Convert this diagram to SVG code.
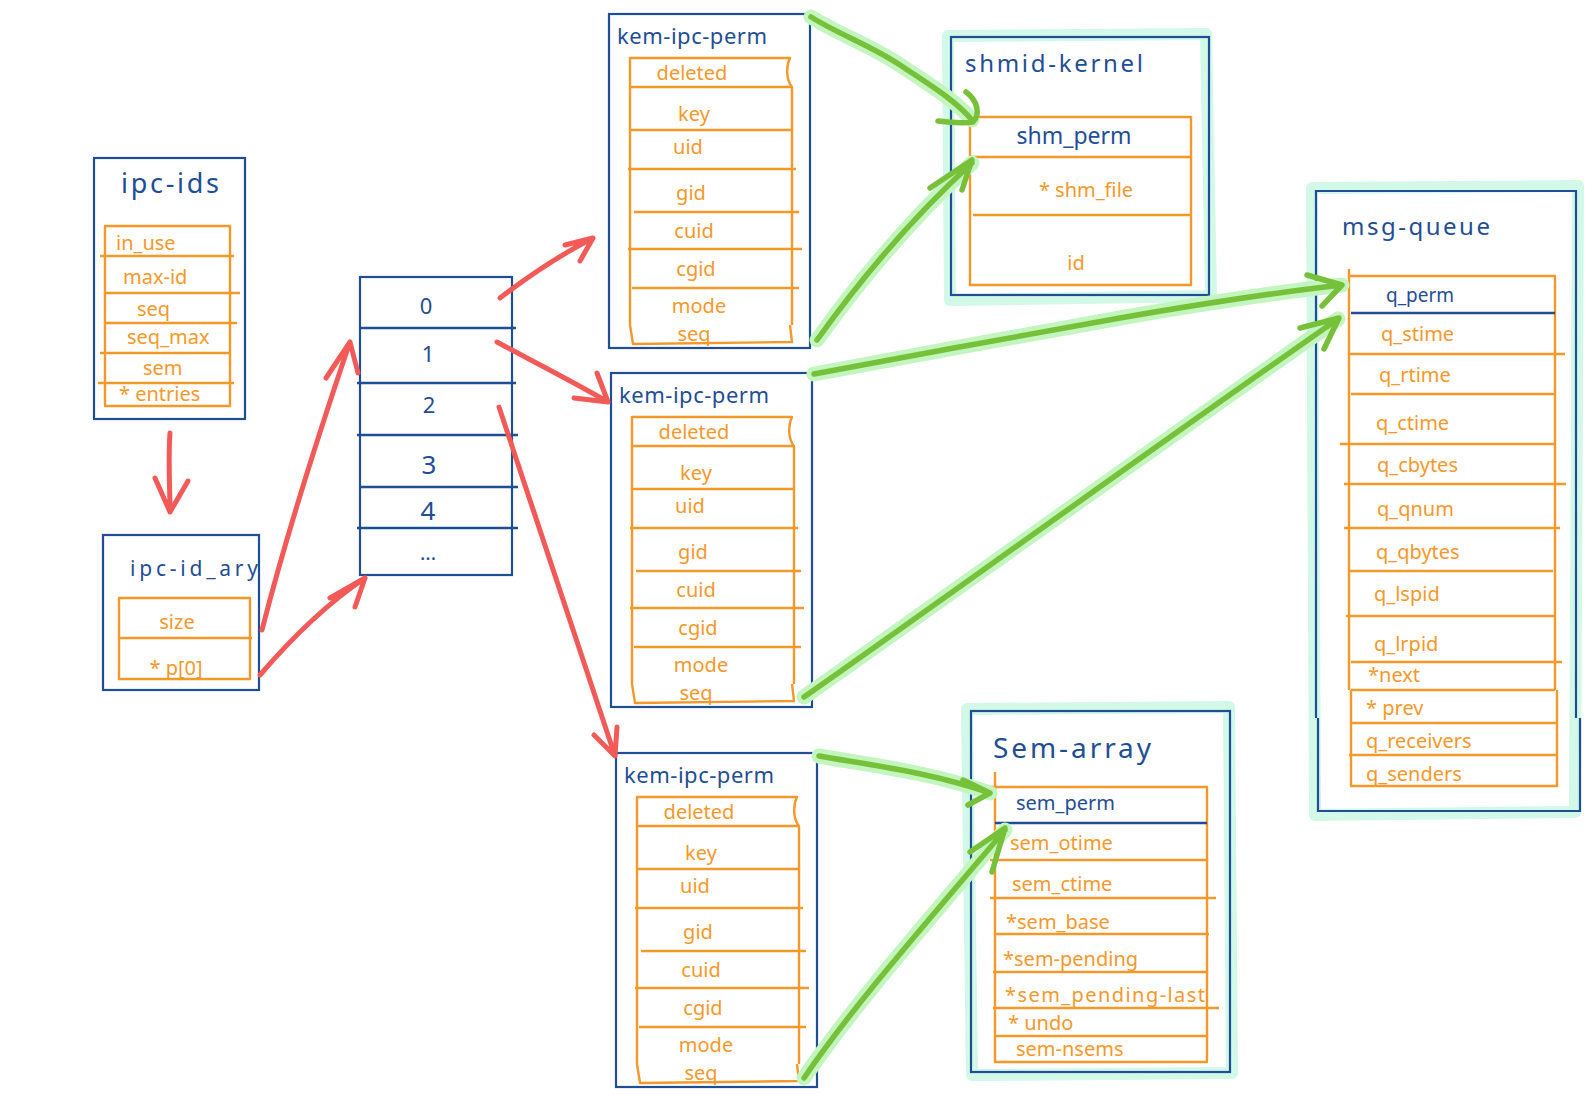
<svg xmlns="http://www.w3.org/2000/svg" width="1596" height="1119" viewBox="0 0 1596 1119">
<style>
.bb{fill:none;stroke:#1f4e94;stroke-width:2.2}
.ob{fill:none;stroke:#f5982a;stroke-width:2.4;stroke-linejoin:round}
.bl{fill:none;stroke:#1f4e94;stroke-width:2.4}
.halo{fill:none;stroke:#d2f8e8;stroke-width:12;stroke-linejoin:round}
.tb{fill:#1f4e94;font-family:"Noto Sans","Liberation Sans",sans-serif}
.to{fill:#f5982a;font-family:"Noto Sans","Liberation Sans",sans-serif;font-size:20px}
.red{fill:none;stroke:#f25a58;stroke-width:5;stroke-linecap:round;stroke-linejoin:round}
.gh{fill:none;stroke:#c3f5bf;stroke-width:15;stroke-linecap:round;stroke-linejoin:round}
.gr{fill:none;stroke:#76c03a;stroke-width:5.5;stroke-linecap:round;stroke-linejoin:round}
</style>
<rect width="1596" height="1119" fill="#ffffff"/>

<g id="ipc-ids">
<rect class="bb" x="94" y="158" width="151" height="261"/>
<text class="tb" x="170" y="193" font-size="27" text-anchor="middle" textLength="98">ipc-ids</text>
<rect class="ob" x="105" y="226" width="125" height="180"/>
<path class="ob" d="M100,256H234M105,293H240M105,323H237M100,353H230M98,383H234"/>
<text class="to" x="116" y="250" font-size="16">in_use</text>
<text class="to" x="123" y="284" font-size="17">max-id</text>
<text class="to" x="137" y="316" font-size="17">seq</text>
<text class="to" x="127" y="344" font-size="16">seq_max</text>
<text class="to" x="143" y="375" font-size="17">sem</text>
<text class="to" x="119" y="401" font-size="17">* entries</text>
</g>

<g id="ipc-id_ary">
<rect class="bb" x="103" y="535" width="156" height="155"/>
<text class="tb" x="130" y="576" font-size="21" textLength="128">ipc-id_ary</text>
<rect class="ob" x="119" y="598" width="131" height="81"/>
<path class="ob" d="M119,638H252"/>
<text class="to" x="177" y="629" text-anchor="middle">size</text>
<text class="to" x="176" y="675" text-anchor="middle">* p[0]</text>
</g>

<g id="array">
<rect class="bb" x="360" y="277" width="152" height="298"/>
<path class="bl" d="M360,328H516M357,383H516M357,435H518M360,487H518M357,528H518"/>
<text class="tb" x="426" y="314" font-size="22" text-anchor="middle">0</text>
<text class="tb" x="428" y="362" font-size="22" text-anchor="middle">1</text>
<text class="tb" x="429" y="413" font-size="22" text-anchor="middle">2</text>
<text class="tb" x="429" y="474" font-size="26" text-anchor="middle">3</text>
<text class="tb" x="428" y="520" font-size="26" text-anchor="middle">4</text>
<text class="tb" x="428" y="560" font-size="20" text-anchor="middle">...</text>
</g>

<g id="kem-ipc-perm-1" transform="translate(609,14)">
<rect class="bb" x="0" y="0" width="201" height="334"/>
<text class="tb" x="8" y="30" font-size="22" textLength="150">kem-ipc-perm</text>
<path class="ob" d="M21,311V44H181C177,52 177,66 183,73V311M21,73H183M21,116H183M19,155H187M25,198H190M19,235H193M23,274H190M21,311L24,330L183,328L181,311"/>
<text class="to" x="83" y="66" text-anchor="middle">deleted</text>
<text class="to" x="85" y="107" text-anchor="middle">key</text>
<text class="to" x="79" y="140" text-anchor="middle">uid</text>
<text class="to" x="82" y="186" text-anchor="middle">gid</text>
<text class="to" x="85" y="224" text-anchor="middle">cuid</text>
<text class="to" x="87" y="262" text-anchor="middle">cgid</text>
<text class="to" x="90" y="299" text-anchor="middle">mode</text>
<text class="to" x="85" y="327" text-anchor="middle">seq</text>
</g>

<g id="kem-ipc-perm-2" transform="translate(611,373)">
<rect class="bb" x="0" y="0" width="201" height="334"/>
<text class="tb" x="8" y="30" font-size="22" textLength="150">kem-ipc-perm</text>
<path class="ob" d="M21,311V44H181C177,52 177,66 183,73V311M21,73H183M21,116H183M19,155H187M25,198H190M19,235H193M23,274H190M21,311L24,330L183,328L181,311"/>
<text class="to" x="83" y="66" text-anchor="middle">deleted</text>
<text class="to" x="85" y="107" text-anchor="middle">key</text>
<text class="to" x="79" y="140" text-anchor="middle">uid</text>
<text class="to" x="82" y="186" text-anchor="middle">gid</text>
<text class="to" x="85" y="224" text-anchor="middle">cuid</text>
<text class="to" x="87" y="262" text-anchor="middle">cgid</text>
<text class="to" x="90" y="299" text-anchor="middle">mode</text>
<text class="to" x="85" y="327" text-anchor="middle">seq</text>
</g>

<g id="kem-ipc-perm-3" transform="translate(616,753)">
<rect class="bb" x="0" y="0" width="201" height="334"/>
<text class="tb" x="8" y="30" font-size="22" textLength="150">kem-ipc-perm</text>
<path class="ob" d="M21,311V44H181C177,52 177,66 183,73V311M21,73H183M21,116H183M19,155H187M25,198H190M19,235H193M23,274H190M21,311L24,330L183,328L181,311"/>
<text class="to" x="83" y="66" text-anchor="middle">deleted</text>
<text class="to" x="85" y="107" text-anchor="middle">key</text>
<text class="to" x="79" y="140" text-anchor="middle">uid</text>
<text class="to" x="82" y="186" text-anchor="middle">gid</text>
<text class="to" x="85" y="224" text-anchor="middle">cuid</text>
<text class="to" x="87" y="262" text-anchor="middle">cgid</text>
<text class="to" x="90" y="299" text-anchor="middle">mode</text>
<text class="to" x="85" y="327" text-anchor="middle">seq</text>
</g>

<g id="shmid_kernel">
<path class="halo" d="M948,36L1206,34L1211,296L950,300Z"/>
<rect class="bb" x="951" y="37" width="258" height="258"/>
<text class="tb" x="965" y="72" font-size="24" textLength="178">shmid-kernel</text>
<rect class="ob" x="970" y="117" width="221" height="168"/>
<path class="ob" d="M970,157H1191M973,215H1191"/>
<text class="tb" x="1074" y="144" font-size="23" text-anchor="middle">shm_perm</text>
<text class="to" x="1086" y="197" font-size="23" text-anchor="middle">* shm_file</text>
<text class="to" x="1076" y="270" font-size="23" text-anchor="middle">id</text>
</g>

<g id="msg_queue">
<path class="halo" d="M1312,188L1578,186L1575,812L1315,815Z"/>
<path class="bb" d="M1316,718V191H1576V718M1318,718V811H1580V718"/>
<text class="tb" x="1342" y="235" font-size="24" textLength="148">msg-queue</text>
<path class="ob" d="M1349,269V690M1349,276H1555V690M1351,690V786H1557V690M1351,690H1555"/>
<path class="bl" d="M1351,313H1555"/>
<path class="ob" d="M1349,354H1565M1351,394H1556M1340,444H1555M1344,484H1566M1344,528H1560M1349,571H1553M1346,616H1555M1351,662H1562M1351,723H1557M1349,755H1557"/>
<text class="tb" x="1386" y="302" font-size="19">q_perm</text>
<text class="to" x="1381" y="341" font-size="17">q_stime</text>
<text class="to" x="1379" y="382" font-size="17">q_rtime</text>
<text class="to" x="1376" y="430" font-size="17">q_ctime</text>
<text class="to" x="1377" y="472" font-size="17">q_cbytes</text>
<text class="to" x="1377" y="516" font-size="17">q_qnum</text>
<text class="to" x="1376" y="559" font-size="17">q_qbytes</text>
<text class="to" x="1374" y="601" font-size="18">q_lspid</text>
<text class="to" x="1374" y="651" font-size="18">q_lrpid</text>
<text class="to" x="1368" y="682" font-size="16">*next</text>
<text class="to" x="1366" y="715" font-size="16">* prev</text>
<text class="to" x="1366" y="748" font-size="16">q_receivers</text>
<text class="to" x="1366" y="781" font-size="16">q_senders</text>
</g>

<g id="sem_array">
<path class="halo" d="M967,709L1229,707L1232,1073L972,1075Z"/>
<rect class="bb" x="971" y="711" width="259" height="361"/>
<text class="tb" x="993" y="758" font-size="28" textLength="158">Sem-array</text>
<path class="ob" d="M995,772V1062H1207V787H990M990,860H1207M990,898H1216M995,934H1209M993,972H1207M993,1008H1219M995,1036H1207"/>
<path class="bl" d="M995,823H1207"/>
<text class="tb" x="1016" y="810" font-size="20">sem_perm</text>
<text class="to" x="1010" y="850">sem_otime</text>
<text class="to" x="1012" y="891">sem_ctime</text>
<text class="to" x="1006" y="929">*sem_base</text>
<text class="to" x="1003" y="966">*sem-pending</text>
<text class="to" x="1005" y="1002" textLength="200">*sem_pending-last</text>
<text class="to" x="1008" y="1030">* undo</text>
<text class="to" x="1016" y="1056">sem-nsems</text>
</g>

<g id="connectors">
<g id="red-arrows">
<path class="red" d="M170,433C168,460 170,490 170,512M155,478L170,512L188,481" stroke-width="6"/>
<path class="red" d="M262,630C285,540 320,430 350,342M326,378L350,342L358,373"/>
<path class="red" d="M260,675C290,640 325,605 365,578M330,598L365,578L355,607"/>
<path class="red" d="M500,298C530,275 560,255 593,238M565,245L593,238L580,261"/>
<path class="red" d="M497,342C530,360 570,380 608,402M597,373L608,402L574,398"/>
<path class="red" d="M499,407L615,756M617,727L615,756L594,735"/>
</g>
<g id="green-arrows">
<path class="gh" d="M811,17C840,35 870,45 900,65C930,85 955,100 972,120"/>
<path class="gh" d="M817,340C860,280 915,215 972,163"/>
<path class="gh" d="M814,374C900,358 1050,330 1120,318C1200,304 1280,292 1342,285"/>
<path class="gh" d="M804,697C900,630 1150,450 1338,319"/>
<path class="gh" d="M819,756C870,765 930,772 990,793"/>
<path class="gh" d="M804,1078C850,1010 920,930 1005,830"/>
<path class="gr" d="M811,17C840,35 870,45 900,65C930,85 955,100 972,120M966,92C977,100 981,114 973,122C962,124 950,122 938,121"/>
<path class="gr" d="M817,340C860,280 915,215 972,163M930,188L972,160L962,190"/>
<path class="gr" d="M814,374C900,358 1050,330 1120,318C1200,304 1280,292 1342,285M1307,275L1342,285L1322,306"/>
<path class="gr" d="M804,697C900,630 1150,450 1338,319M1300,328L1339,318L1324,349"/>
<path class="gr" d="M819,756C870,765 930,772 990,793M963,780L990,793L968,805"/>
<path class="gr" d="M804,1078C850,1010 920,930 1005,830M970,852L1005,828L992,872"/>
</g>
</g>
</svg>
